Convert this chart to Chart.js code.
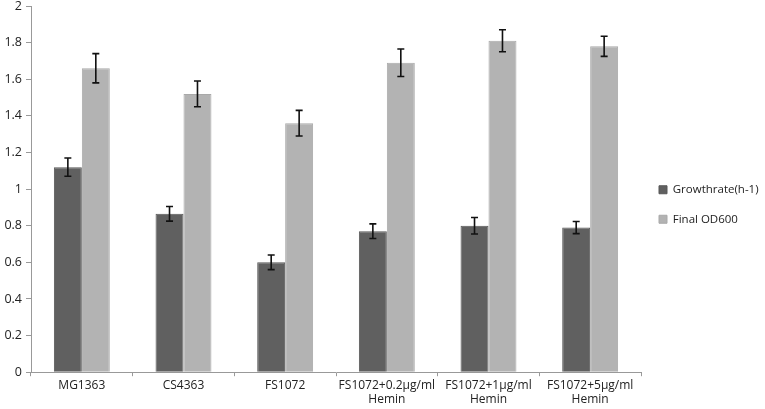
<!DOCTYPE html>
<html>
<head>
<meta charset="utf-8">
<script src="https://cdn.jsdelivr.net/npm/chart.js@4.4.0/dist/chart.umd.min.js"></script>
<style>
  html, body { margin: 0; padding: 0; background: #fff; }
  #wrap { width: 765px; height: 409px; }
</style>
</head>
<body>
<div id="wrap"><canvas id="growthChart"></canvas></div>
<script>
// Dados
const categories = [
    'MG1363',
    'CS4363',
    'FS1072',
    ['FS1072+0.2µg/ml', 'Hemin'],
    ['FS1072+1µg/ml', 'Hemin'],
    ['FS1072+5µg/ml', 'Hemin']
];
const growthRate = [1.12, 0.865, 0.60, 0.77, 0.80, 0.79];
const growthRateErr = [0.05, 0.04, 0.04, 0.04, 0.045, 0.033];
const finalOD = [1.66, 1.52, 1.36, 1.69, 1.81, 1.78];
const finalODErr = [0.08, 0.07, 0.07, 0.075, 0.06, 0.055];
const yTicks = [0, 0.2, 0.4, 0.6, 0.8, 1, 1.2, 1.4, 1.6, 1.8, 2];

const errors = [growthRateErr, finalODErr];

// Plugin simples para desenhar as barras de erro
const errorBarPlugin = {
    id: 'errorBars',
    afterDatasetsDraw(chart) {
        const ctx = chart.ctx;
        const yScale = chart.scales.y;
        ctx.save();
        ctx.strokeStyle = '#111';
        ctx.lineWidth = 1.6;
        chart.data.datasets.forEach((ds, di) => {
            const meta = chart.getDatasetMeta(di);
            meta.data.forEach((bar, i) => {
                const v = ds.data[i];
                const e = errors[di][i];
                const top = yScale.getPixelForValue(v + e);
                const bottom = yScale.getPixelForValue(v - e);
                const x = bar.x;
                ctx.beginPath();
                ctx.moveTo(x, top);
                ctx.lineTo(x, bottom);
                ctx.moveTo(x - 3.5, top);
                ctx.lineTo(x + 3.5, top);
                ctx.moveTo(x - 3.5, bottom);
                ctx.lineTo(x + 3.5, bottom);
                ctx.stroke();
            });
        });
        ctx.restore();
    }
};

// Largura fixa da legenda para a área do gráfico terminar no mesmo ponto da referência
const legendWidthPlugin = {
    id: 'legendWidth',
    beforeInit(chart) {
        const originalFit = chart.legend.fit;
        chart.legend.fit = function () {
            originalFit.call(this);
            this.width = 124;
        };
    }
};

Chart.defaults.font.family = '"Open Sans", "Liberation Sans", sans-serif';
Chart.defaults.color = '#222';

new Chart(document.getElementById('growthChart'), {
    type: 'bar',
    data: {
        labels: categories,
        datasets: [
            {
                label: 'Growthrate(h-1)',
                data: growthRate,
                backgroundColor: '#606060',
                borderColor: '#575757',
                borderWidth: 1
            },
            {
                label: 'Final OD600',
                data: finalOD,
                backgroundColor: '#b3b3b3',
                borderColor: '#a9a9a9',
                borderWidth: 1
            }
        ]
    },
    options: {
        responsive: true,
        maintainAspectRatio: false,
        animation: false,
        layout: { padding: 0 },
        datasets: { bar: { categoryPercentage: 0.55, barPercentage: 1.0 } },
        plugins: {
            tooltip: { enabled: false },
            legend: {
                position: 'right',
                align: 'center',
                labels: {
                    boxWidth: 8,
                    boxHeight: 8,
                    padding: 18,
                    font: { size: 11.5 },
                    color: '#222'
                }
            }
        },
        scales: {
            x: {
                grid: {
                    offset: true,
                    drawOnChartArea: false,
                    color: '#999',
                    tickLength: 4
                },
                border: { color: '#999', width: 1 },
                ticks: {
                    font: { size: 12, lineHeight: 1.2 },
                    maxRotation: 0,
                    autoSkip: false,
                    padding: 2
                }
            },
            y: {
                min: 0,
                max: 2,
                afterBuildTicks(axis) {
                    axis.ticks = yTicks.map(v => ({ value: v }));
                },
                afterFit(axis) {
                    axis.width = 31;
                    axis.paddingTop = 6;
                },
                grid: {
                    drawOnChartArea: false,
                    color: '#999',
                    tickLength: 5
                },
                border: { color: '#999', width: 1 },
                ticks: {
                    font: { size: 12.5, lineHeight: 0.8 },
                    padding: 4,
                    callback: v => String(Math.round(v * 10) / 10)
                }
            }
        }
    },
    plugins: [errorBarPlugin, legendWidthPlugin]
});
</script>
</body>
</html>
